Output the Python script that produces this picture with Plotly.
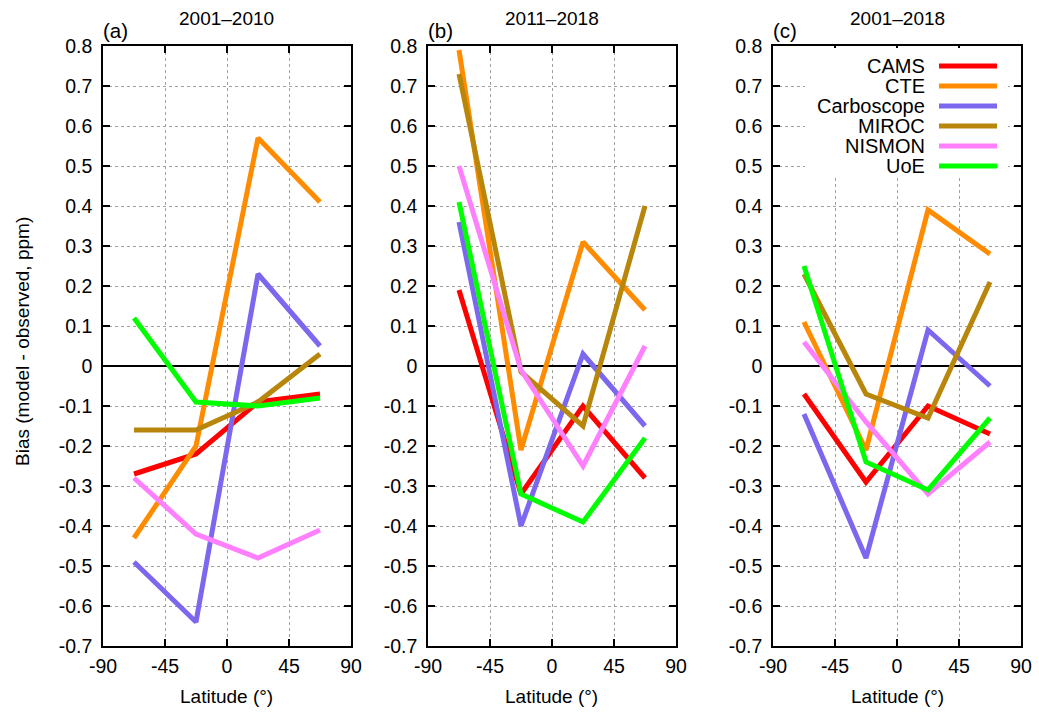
import plotly.graph_objects as go

lat = [-67.5, -22.5, 22.5, 67.5]
models = ["CAMS", "CTE", "Carboscope", "MIROC", "NISMON", "UoE"]
colors = ["#ff0000", "#ff8c00", "#7b68ee", "#b8860b", "#ff80ff", "#00ff00"]

# panel (a) 2001-2010
a_CAMS = [-0.27, -0.22, -0.09, -0.07]
a_CTE = [-0.43, -0.20, 0.57, 0.41]
a_Carboscope = [-0.49, -0.64, 0.23, 0.05]
a_MIROC = [-0.16, -0.16, -0.09, 0.03]
a_NISMON = [-0.28, -0.42, -0.48, -0.41]
a_UoE = [0.12, -0.09, -0.10, -0.08]

# panel (b) 2011-2018
b_CAMS = [0.19, -0.32, -0.10, -0.28]
b_CTE = [0.79, -0.21, 0.31, 0.14]
b_Carboscope = [0.36, -0.40, 0.03, -0.15]
b_MIROC = [0.73, -0.015, -0.15, 0.40]
b_NISMON = [0.50, -0.01, -0.25, 0.05]
b_UoE = [0.41, -0.32, -0.39, -0.18]

# panel (c) 2001-2018
c_CAMS = [-0.07, -0.29, -0.10, -0.17]
c_CTE = [0.11, -0.21, 0.39, 0.28]
c_Carboscope = [-0.12, -0.48, 0.09, -0.05]
c_MIROC = [0.23, -0.07, -0.13, 0.21]
c_NISMON = [0.06, -0.14, -0.32, -0.19]
c_UoE = [0.25, -0.24, -0.31, -0.13]

panels = [
    ("(a)", "2001\u20132010", [a_CAMS, a_CTE, a_Carboscope, a_MIROC, a_NISMON, a_UoE]),
    ("(b)", "2011\u20132018", [b_CAMS, b_CTE, b_Carboscope, b_MIROC, b_NISMON, b_UoE]),
    ("(c)", "2001\u20132018", [c_CAMS, c_CTE, c_Carboscope, c_MIROC, c_NISMON, c_UoE]),
]

xticks = [-90, -45, 0, 45, 90]
yticks = [round(-0.7 + 0.1 * i, 1) for i in range(16)]
ytext = ["0" if v == 0 else ("%g" % v) for v in yticks]

W, H = 1039, 713
xdoms = [(103 / W, 351 / W), (428 / W, 676 / W), (773 / W, 1021 / W)]
ydom = ((H - 646) / H, (H - 46) / H)

FONT = "Liberation Sans, Arial, sans-serif"
fig = go.Figure()

for i, (lab, title, series) in enumerate(panels):
    sfx = "" if i == 0 else str(i + 1)
    for name, col, vals in zip(models, colors, series):
        fig.add_trace(go.Scatter(x=lat, y=vals, mode="lines", name=name,
                                 line=dict(color=col, width=5),
                                 xaxis="x" + sfx, yaxis="y" + sfx,
                                 showlegend=False, hoverinfo="skip"))
    axcommon = dict(showline=True, linecolor="black", linewidth=1.5, mirror="ticks",
                    ticks="inside", ticklen=7, tickcolor="black", tickwidth=1.5,
                    showgrid=True, gridcolor="#a0a0a0", griddash="dot", gridwidth=1,
                    automargin=False,
                    tickfont=dict(family=FONT, size=19.5, color="black"), fixedrange=True)
    fig.update_layout(**{
        "xaxis" + sfx: dict(domain=list(xdoms[i]), range=[-90, 90], tickvals=xticks,
                            ticktext=[str(v) for v in xticks], zeroline=False,
                            ticklabelstandoff=2,
                            anchor="y" + sfx, **axcommon),
        "yaxis" + sfx: dict(domain=list(ydom), range=[-0.7, 0.8], tickvals=yticks,
                            ticktext=ytext, zeroline=True, zerolinecolor="black",
                            zerolinewidth=1.5, ticklabelstandoff=5,
                            anchor="x" + sfx, **axcommon),
    })
    xc = (xdoms[i][0] + xdoms[i][1]) / 2
    fig.add_annotation(text=title, x=xc, y=(H - 18) / H, xref="paper", yref="paper",
                       xanchor="center", yanchor="middle",
                       showarrow=False, font=dict(family=FONT, size=19, color="black"))
    fig.add_annotation(text=lab, x=xdoms[i][0] - 2 / W, y=(H - 31) / H, xref="paper", yref="paper",
                       xanchor="left", yanchor="middle", showarrow=False,
                       font=dict(family=FONT, size=20.5, color="black"))
    fig.add_annotation(text="Latitude (\u00b0)", x=xc, y=(H - 696) / H, xref="paper", yref="paper",
                       xanchor="center", yanchor="middle",
                       showarrow=False, font=dict(family=FONT, size=19, color="black"))

fig.add_annotation(text="Bias (model - observed, ppm)", x=22 / W, y=(H - 342) / H,
                   xref="paper", yref="paper", textangle=-90, showarrow=False,
                   xanchor="center", yanchor="middle",
                   font=dict(family=FONT, size=19, color="black"))

# legend drawn in panel (c), gnuplot style (text then sample)
fig.add_shape(type="rect", xref="x3", yref="y3", x0=-66.8, x1=80.5, y0=0.47, y1=0.795,
              fillcolor="white", line=dict(width=0), layer="above")
leg_y = [0.75, 0.70, 0.65, 0.60, 0.55, 0.50]
for name, col, yv in zip(models, colors, leg_y):
    fig.add_annotation(text=name, x=21.8, y=yv, xref="x3", yref="y3", xanchor="right",
                       yanchor="middle",
                       showarrow=False, font=dict(family=FONT, size=20, color="black"))
    fig.add_shape(type="line", xref="x3", yref="y3", x0=30.5, x1=72.6, y0=yv, y1=yv,
                  line=dict(color=col, width=5), layer="above")

fig.update_layout(width=W, height=H, margin=dict(l=0, r=0, t=0, b=0),
                  paper_bgcolor="white", plot_bgcolor="white", showlegend=False,
                  font=dict(family=FONT, color="black"))

fig.write_html("out.html", config={"displayModeBar": False},
               post_script="document.body.style.margin='0px';document.body.style.overflow='hidden';")
